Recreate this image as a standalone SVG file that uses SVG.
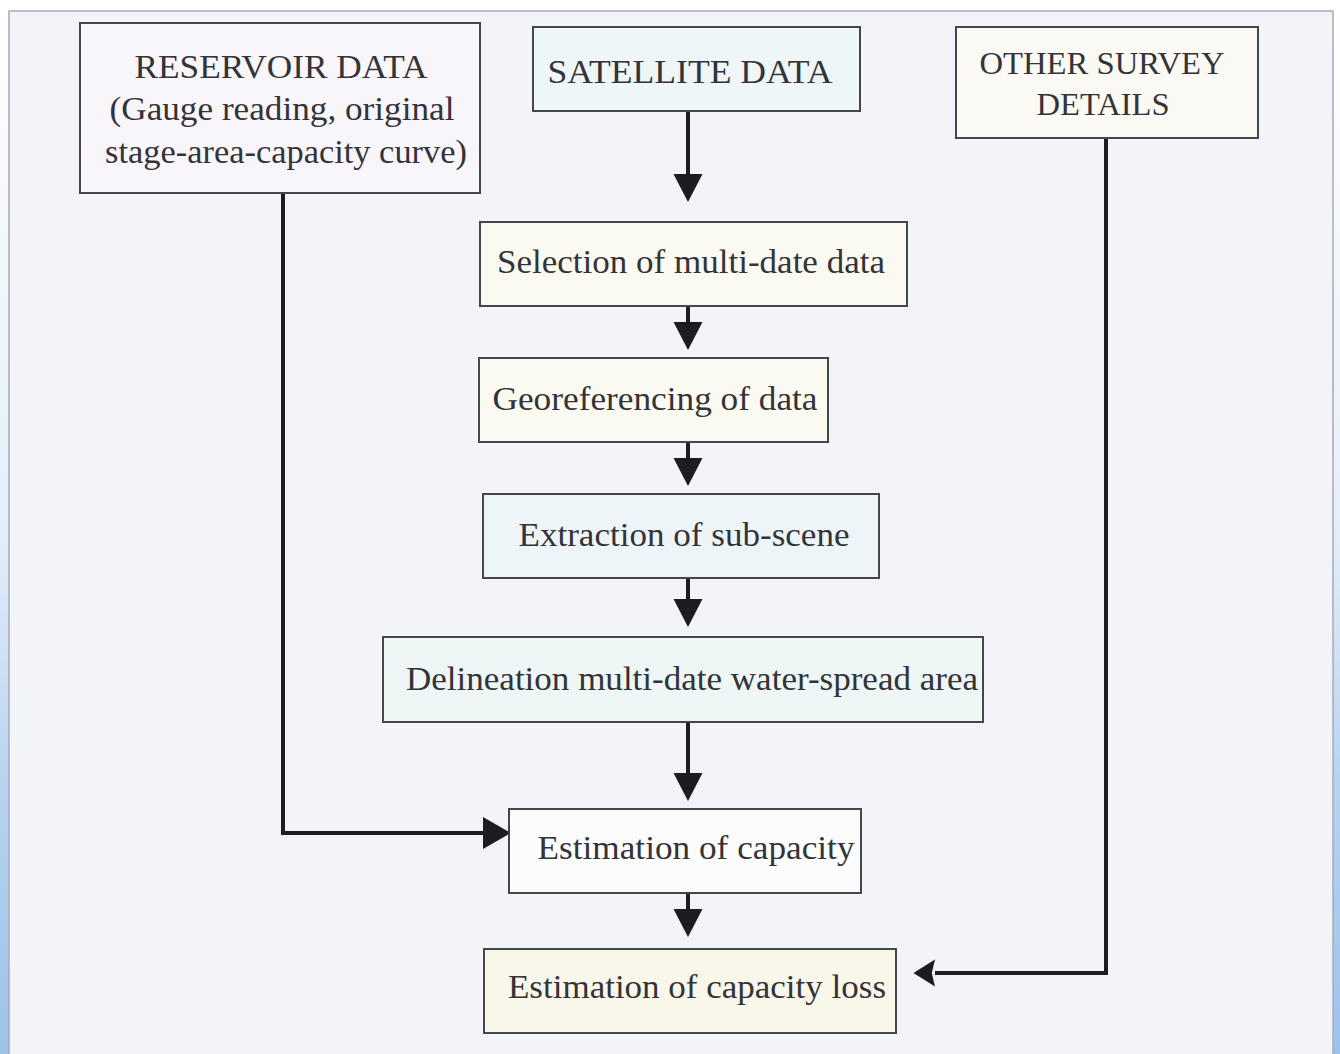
<svg xmlns="http://www.w3.org/2000/svg" width="1340" height="1054" viewBox="0 0 1340 1054">
  <defs>
    <linearGradient id="edgeL" x1="0" y1="0" x2="0" y2="1">
      <stop offset="0" stop-color="#ffffff"/>
      <stop offset="0.5" stop-color="#e4eefa"/>
      <stop offset="0.75" stop-color="#b6d2f0"/>
      <stop offset="1" stop-color="#9cc2ec"/>
    </linearGradient>
    <marker id="headDown" markerUnits="userSpaceOnUse" markerWidth="30" markerHeight="30" viewBox="0 -15 28 30" refX="0" refY="0" orient="auto">
      <polygon points="0,-14.5 28,0 0,14.5" fill="#1c1c22"/>
    </marker>
    <marker id="headRight" markerUnits="userSpaceOnUse" markerWidth="30" markerHeight="32" viewBox="0 -15 26 30" refX="0" refY="0" orient="auto">
      <polygon points="0,-15 26,0 0,15" fill="#1c1c22"/>
    </marker>
    <marker id="headLeft" markerUnits="userSpaceOnUse" markerWidth="22" markerHeight="28" viewBox="0 -13 20 26" refX="0" refY="0" orient="auto">
      <polygon points="0,-12.5 20,0 0,12.5 3,0" fill="#1c1c22"/>
    </marker>
  </defs>
  <style>
    .box { stroke: #45454c; stroke-width: 2; }
    .t { font-family: "Liberation Serif", "Times New Roman", serif; fill: #333338; text-anchor: middle; }
    .conn { fill: none; stroke: #1c1c22; stroke-width: 4; }
  </style>

  <!-- page background -->
  <rect x="0" y="0" width="1340" height="1054" fill="#ffffff"/>
  <rect x="0" y="0" width="10" height="1054" fill="url(#edgeL)"/>
  <rect x="1333" y="0" width="7" height="1054" fill="url(#edgeL)"/>
  <rect x="9" y="11" width="1324" height="1060" fill="#f3f4fa" stroke="#a9aab2" stroke-width="1.5"/>

  <g id="connectors">
    <line class="conn" x1="688" y1="111" x2="688" y2="174" marker-end="url(#headDown)"/>
    <line class="conn" x1="688" y1="306" x2="688" y2="322" marker-end="url(#headDown)"/>
    <line class="conn" x1="688" y1="442" x2="688" y2="458" marker-end="url(#headDown)"/>
    <line class="conn" x1="688" y1="578" x2="688" y2="599" marker-end="url(#headDown)"/>
    <line class="conn" x1="688" y1="722" x2="688" y2="773" marker-end="url(#headDown)"/>
    <line class="conn" x1="688" y1="893" x2="688" y2="909" marker-end="url(#headDown)"/>
    <polyline class="conn" points="283,193 283,833 483,833" marker-end="url(#headRight)"/>
    <polyline class="conn" points="1106,138 1106,973 935,973" marker-end="url(#headLeft)"/>
  </g>

  <g id="reservoir">
    <rect class="box" x="80" y="23" width="400" height="170" fill="#f8f6fa"/>
    <text class="t" x="281" y="78" font-size="34" textLength="293" lengthAdjust="spacingAndGlyphs">RESERVOIR DATA</text>
    <text class="t" x="282" y="120" font-size="34" textLength="345" lengthAdjust="spacingAndGlyphs">(Gauge reading, original</text>
    <text class="t" x="286" y="163" font-size="34" textLength="362" lengthAdjust="spacingAndGlyphs">stage-area-capacity curve)</text>
  </g>

  <g id="satellite">
    <rect class="box" x="533" y="27" width="327" height="84" fill="#eef6f7"/>
    <text class="t" x="690" y="83" font-size="34" textLength="285" lengthAdjust="spacingAndGlyphs">SATELLITE DATA</text>
  </g>

  <g id="other-survey">
    <rect class="box" x="956" y="27" width="302" height="111" fill="#fbf9f4"/>
    <text class="t" x="1102" y="74" font-size="32" textLength="245" lengthAdjust="spacingAndGlyphs">OTHER SURVEY</text>
    <text class="t" x="1103" y="115" font-size="32" textLength="133" lengthAdjust="spacingAndGlyphs">DETAILS</text>
  </g>

  <g id="selection">
    <rect class="box" x="480" y="222" width="427" height="84" fill="#fbfaf0"/>
    <text class="t" x="691" y="273" font-size="34" textLength="388" lengthAdjust="spacingAndGlyphs">Selection of multi-date data</text>
  </g>

  <g id="georeferencing">
    <rect class="box" x="479" y="358" width="349" height="84" fill="#fbfaf1"/>
    <text class="t" x="655" y="410" font-size="34" textLength="325" lengthAdjust="spacingAndGlyphs">Georeferencing of data</text>
  </g>

  <g id="extraction">
    <rect class="box" x="483" y="494" width="396" height="84" fill="#eef5f8"/>
    <text class="t" x="684" y="546" font-size="34" textLength="331" lengthAdjust="spacingAndGlyphs">Extraction of sub-scene</text>
  </g>

  <g id="delineation">
    <rect class="box" x="383" y="637" width="600" height="85" fill="#eef6f6"/>
    <text class="t" x="692" y="690" font-size="34" textLength="572" lengthAdjust="spacingAndGlyphs">Delineation multi-date water-spread area</text>
  </g>

  <g id="estimation-capacity">
    <rect class="box" x="509" y="809" width="352" height="84" fill="#fcfcfd"/>
    <text class="t" x="696" y="859" font-size="34" textLength="317" lengthAdjust="spacingAndGlyphs">Estimation of capacity</text>
  </g>

  <g id="estimation-loss">
    <rect class="box" x="484" y="949" width="412" height="84" fill="#f8f7ea"/>
    <text class="t" x="697" y="998" font-size="34" textLength="378" lengthAdjust="spacingAndGlyphs">Estimation of capacity loss</text>
  </g>
</svg>
